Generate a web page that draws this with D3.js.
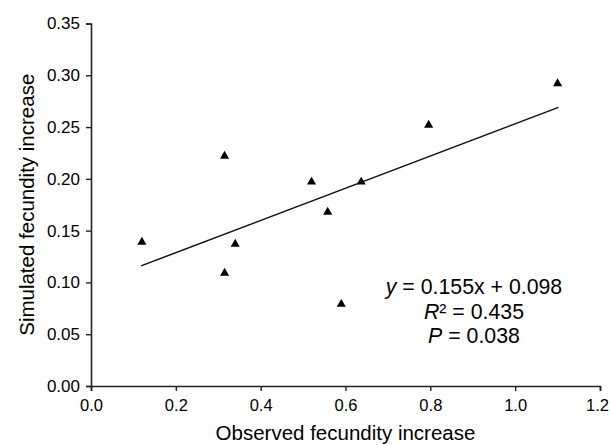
<!DOCTYPE html>
<html>
<head>
<meta charset="utf-8">
<script src="https://cdn.jsdelivr.net/npm/d3@7"></script>
<style>
  html, body { margin: 0; padding: 0; background: #fff; }
  svg { display: block; font-family: "Liberation Sans", Arial, Helvetica, sans-serif; }
</style>
</head>
<body>
<svg id="chart" width="610" height="445"></svg>
<script>
// Data
const observed  = [0.12, 0.315, 0.315, 0.34, 0.52, 0.558, 0.59, 0.637, 0.796, 1.10];
const simulated = [0.139, 0.222, 0.109, 0.137, 0.197, 0.168, 0.079, 0.197, 0.252, 0.292];
const fitX = [0.118, 1.102];
const fitY = [0.116, 0.269];
const xTicks = [0.0, 0.2, 0.4, 0.6, 0.8, 1.0, 1.2];
const yTicks = [0.00, 0.05, 0.10, 0.15, 0.20, 0.25, 0.30, 0.35];
const statLines = ["y = 0.155x + 0.098", "R² = 0.435", "P = 0.038"];

const svg = d3.select("#chart");
const x = d3.scaleLinear().domain([0, 1.2]).range([91, 600]);
const y = d3.scaleLinear().domain([0, 0.35]).range([386, 23.5]);

// Axes
const xAxis = svg.append("g").attr("transform", `translate(0,${y(0)})`)
  .call(d3.axisBottom(x).tickValues(xTicks).tickFormat(d3.format(".1f")).tickSizeOuter(0).tickSize(5).tickPadding(8));
const yAxis = svg.append("g").attr("transform", `translate(${x(0)},0)`)
  .call(d3.axisLeft(y).tickValues(yTicks).tickFormat(d3.format(".2f")).tickSizeOuter(0).tickSize(5).tickPadding(6));

[xAxis, yAxis].forEach(g => {
  g.select(".domain").attr("stroke", "#222").attr("stroke-width", 1.6);
  g.selectAll(".tick line").attr("stroke", "#222").attr("stroke-width", 1.4);
  g.selectAll(".tick text").attr("fill", "#000").style("font-family", "Liberation Sans, Arial, sans-serif");
});
yAxis.selectAll(".tick text").style("font-size", "17px");
xAxis.selectAll(".tick text").style("font-size", "16.5px");
// keep last x label inside the picture (as in the reference)
xAxis.selectAll(".tick text").filter(d => d === 1.2).attr("dx", -3);

// Axis titles
svg.append("text")
  .attr("x", (x(0) + x(1.2)) / 2).attr("y", 440)
  .attr("text-anchor", "middle").attr("fill", "#000")
  .style("font-size", "20.5px")
  .text("Observed fecundity increase");

svg.append("text")
  .attr("transform", `translate(34,${(y(0) + y(0.35)) / 2}) rotate(-90)`)
  .attr("text-anchor", "middle").attr("fill", "#000")
  .style("font-size", "20.5px")
  .text("Simulated fecundity increase");

// Regression line
svg.append("line")
  .attr("x1", x(fitX[0])).attr("y1", y(fitY[0]))
  .attr("x2", x(fitX[1])).attr("y2", y(fitY[1]))
  .attr("stroke", "#111").attr("stroke-width", 1.5);

// Points
const tri = d3.symbol().type(d3.symbolTriangle).size(36);
svg.append("g").selectAll("path")
  .data(observed.map((d, i) => [d, simulated[i]]))
  .join("path")
  .attr("d", tri)
  .attr("transform", d => `translate(${x(d[0])},${y(d[1])})`)
  .attr("fill", "#000");

// Stats annotation
const cx = 474;
const baselines = [294, 318.5, 343];
const fs = "21.3px";
const t1 = svg.append("text").attr("x", cx).attr("y", baselines[0]).attr("text-anchor", "middle")
  .attr("fill", "#000").style("font-size", fs);
t1.append("tspan").style("font-style", "italic").text("y");
t1.append("tspan").text(statLines[0].slice(1));

const t2 = svg.append("text").attr("x", cx).attr("y", baselines[1]).attr("text-anchor", "middle")
  .attr("fill", "#000").style("font-size", fs);
t2.append("tspan").style("font-style", "italic").text("R");
t2.append("tspan").text(statLines[1].slice(1));

const t3 = svg.append("text").attr("x", cx).attr("y", baselines[2]).attr("text-anchor", "middle")
  .attr("fill", "#000").style("font-size", fs);
t3.append("tspan").style("font-style", "italic").text("P");
t3.append("tspan").text(statLines[2].slice(1));
</script>
</body>
</html>
